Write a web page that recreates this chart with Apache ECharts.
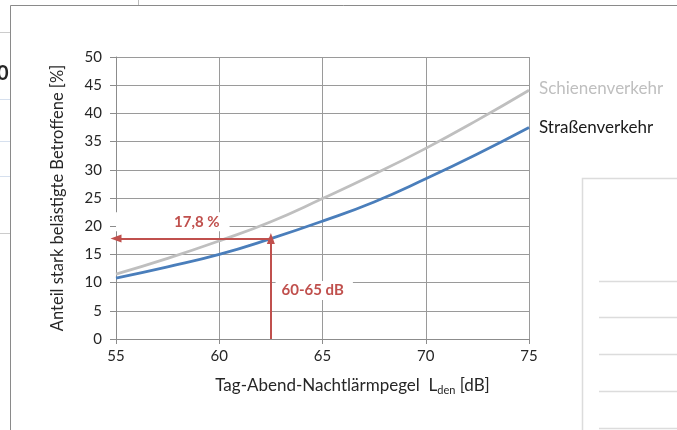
<!DOCTYPE html>
<html lang="de">
<head>
    <meta charset="UTF-8">
    <script src="https://cdn.jsdelivr.net/npm/echarts@6/dist/echarts.min.js"></script>
    <title>Belästigung</title>
    <style>
        html, body { margin: 0; padding: 0; background: #fff; }
        #chart { width: 677px; height: 430px; }
    </style>
</head>
<body>
    <div id="chart"></div>
    <script>
        // Pegel L_den [dB]
        var pegel = [55, 57.5, 60, 62.5, 65, 67.5, 70, 72.5, 75];
        // Anteil stark belästigte [%]
        var strasse = [10.8, 12.8, 15.0, 17.8, 20.9, 24.3, 28.4, 32.8, 37.5];
        var schiene = [11.5, 14.3, 17.4, 20.8, 24.9, 29.2, 33.8, 38.8, 44.1];
        // Markierung 60-65 dB
        var markX = 62.5;
        var markY = 17.8;
        var markText = '17,8 %';
        var bandText = '60-65 dB';

        var font = 'Lato, "Noto Sans", sans-serif';
        var rot = '#C0504D';

        function pairs(xs, ys) {
            var out = [];
            for (var i = 0; i < xs.length; i++) out.push([xs[i], ys[i]]);
            return out;
        }

        var myChart = echarts.init(document.getElementById('chart'));
        var option = {
            animation: false,
            grid: { left: 116, right: 148, top: 57, bottom: 91 },
            xAxis: {
                type: 'value',
                min: 55, max: 75, interval: 5,
                name: '{a|Tag-Abend-Nachtlärmpegel  L}{s|den}{a| [dB]}',
                nameLocation: 'middle',
                nameGap: 37,
                nameTextStyle: {
                    padding: [0, 0, 0, 60],
                    rich: {
                        a: { fontFamily: font, fontSize: 17, color: '#262626' },
                        s: { fontFamily: font, fontSize: 11, color: '#262626', padding: [9, 0, 0, 0] }
                    }
                },
                axisLine: { lineStyle: { color: '#8c8c8c' } },
                axisTick: { show: true, length: 5, lineStyle: { color: '#8c8c8c' } },
                axisLabel: { fontFamily: font, fontSize: 15, color: '#262626', margin: 10 },
                splitLine: { show: true, lineStyle: { color: '#9a9a9a', width: 1 } }
            },
            yAxis: {
                type: 'value',
                min: 0, max: 50, interval: 5,
                name: 'Anteil stark belästigte Betroffene [%]',
                nameLocation: 'middle',
                nameGap: 50,
                nameTextStyle: { fontFamily: font, fontSize: 16.5, color: '#262626' },
                axisLine: { show: true, lineStyle: { color: '#8c8c8c' } },
                axisTick: { show: true, length: 6, lineStyle: { color: '#8c8c8c' } },
                axisLabel: { fontFamily: font, fontSize: 15, color: '#262626', margin: 14 },
                splitLine: { show: true, lineStyle: { color: '#9a9a9a', width: 1 } }
            },
            series: [{
                name: 'Schienenverkehr',
                type: 'line',
                smooth: true,
                showSymbol: false,
                data: pairs(pegel, schiene),
                lineStyle: { color: '#BFBFBF', width: 2.75 },
                itemStyle: { color: '#BFBFBF' },
                endLabel: {
                    show: true, formatter: '{a}', distance: 10, offset: [0, -2],
                    fontFamily: font, fontSize: 17, color: '#BFBFBF'
                }
            }, {
                name: 'Straßenverkehr',
                type: 'line',
                smooth: true,
                showSymbol: false,
                data: pairs(pegel, strasse),
                lineStyle: { color: '#4A7EBB', width: 2.75 },
                itemStyle: { color: '#4A7EBB' },
                endLabel: {
                    show: true, formatter: '{a}', distance: 10,
                    fontFamily: font, fontSize: 17, color: '#1a1a1a'
                },
                markLine: {
                    silent: true,
                    symbol: ['none', 'triangle'],
                    symbolSize: [8, 11],
                    label: { show: false },
                    lineStyle: { color: rot, width: 2, type: 'solid' },
                    data: [
                        [{ coord: [markX, markY] }, { coord: [55, markY] }],
                        [{ coord: [markX, 0] }, { coord: [markX, markY] }]
                    ]
                },
                markPoint: {
                    silent: true,
                    symbolSize: 0,
                    label: {
                        show: true,
                        fontFamily: font, fontSize: 15, fontWeight: 'bold', color: rot,
                        backgroundColor: '#fff'
                    },
                    data: [
                        { coord: [57.75, 20.8], value: markText, label: { padding: [2, 10, 2, 58] } },
                        { coord: [64.6, 8.6], value: bandText, label: { padding: [2, 9, 2, 6] } }
                    ]
                }
            }],
            graphic: [
                // Rahmen und Reste der umgebenden Seite
                { type: 'polyline', shape: { points: [[10.5, 430], [10.5, 5.5], [677, 5.5]] }, style: { stroke: '#8a8a8a', lineWidth: 1, fill: null } },
                { type: 'line', shape: { x1: 138.5, y1: 0, x2: 138.5, y2: 5 }, style: { stroke: '#bbb', lineWidth: 1 } },
                { type: 'line', shape: { x1: 0, y1: 32.5, x2: 10, y2: 32.5 }, style: { stroke: '#ccc', lineWidth: 1 } },
                { type: 'line', shape: { x1: 0, y1: 99.5, x2: 10, y2: 99.5 }, style: { stroke: '#d6e0ee', lineWidth: 1 } },
                { type: 'line', shape: { x1: 0, y1: 141.5, x2: 10, y2: 141.5 }, style: { stroke: '#d6e0ee', lineWidth: 1 } },
                { type: 'line', shape: { x1: 0, y1: 176.5, x2: 10, y2: 176.5 }, style: { stroke: '#d6e0ee', lineWidth: 1 } },
                { type: 'line', shape: { x1: 0, y1: 233.5, x2: 10, y2: 233.5 }, style: { stroke: '#ccc', lineWidth: 1 } },
                { type: 'text', left: -3, top: 64, style: { text: '0', font: 'bold 20px ' + font, fill: '#262626' } },
                { type: 'polyline', shape: { points: [[582.5, 430], [582.5, 178.5], [677, 178.5]] }, style: { stroke: '#dcdcdc', lineWidth: 1.5, fill: null } },
                { type: 'line', shape: { x1: 599, y1: 281.5, x2: 677, y2: 281.5 }, style: { stroke: '#dcdcdc', lineWidth: 1.5 } },
                { type: 'line', shape: { x1: 599, y1: 317.5, x2: 677, y2: 317.5 }, style: { stroke: '#dcdcdc', lineWidth: 1.5 } },
                { type: 'line', shape: { x1: 599, y1: 354.5, x2: 677, y2: 354.5 }, style: { stroke: '#dcdcdc', lineWidth: 1.5 } },
                { type: 'line', shape: { x1: 599, y1: 391.5, x2: 677, y2: 391.5 }, style: { stroke: '#dcdcdc', lineWidth: 1.5 } },
                { type: 'line', shape: { x1: 599, y1: 428.5, x2: 677, y2: 428.5 }, style: { stroke: '#dcdcdc', lineWidth: 1.5 } }
            ]
        };
        myChart.setOption(option);
    </script>
</body>
</html>
